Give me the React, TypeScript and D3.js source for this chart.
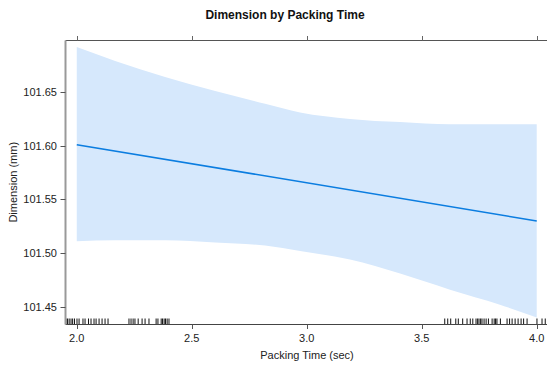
import React, { useEffect, useRef } from "react";
import * as d3 from "d3";

const title = "Dimension by Packing Time";
const xLabel = "Packing Time (sec)";
const yLabel = "Dimension (mm)";

const xTicks = [2.0, 2.5, 3.0, 3.5, 4.0];
const yTicks = [101.45, 101.5, 101.55, 101.6, 101.65];

// fitted line
const fitX = [2.0, 4.0];
const fitY = [101.601, 101.53];

// confidence band
const bandX = [2.0, 2.167, 2.384, 2.602, 2.819, 2.971, 3.188, 3.406, 3.623, 3.84, 4.0];
const bandUpper = [101.692, 101.679, 101.664, 101.651, 101.639, 101.631, 101.625, 101.622, 101.62, 101.62, 101.62];
const bandLower = [101.511, 101.512, 101.512, 101.51, 101.507, 101.502, 101.494, 101.481, 101.466, 101.452, 101.44];

// rug (jittered packing times)
const rugX = [
  1.953, 1.96, 1.967, 1.975, 1.982, 1.99, 2.001, 2.01, 2.027, 2.036, 2.051, 2.062, 2.075, 2.084,
  2.097, 2.11, 2.123, 2.136, 2.227, 2.236, 2.245, 2.253, 2.267, 2.284, 2.297, 2.314, 2.345,
  2.353, 2.367, 2.373, 2.38, 2.386, 2.393, 2.401,
  3.6, 3.613, 3.626, 3.648, 3.659, 3.678, 3.697, 3.711, 3.722, 3.736, 3.743, 3.749, 3.756,
  3.762, 3.771, 3.78, 3.79, 3.806, 3.815, 3.821, 3.827, 3.842, 3.871, 3.882, 3.893, 3.906,
  3.919, 3.932, 3.943, 3.958, 4.001, 4.023, 4.037,
];

const W = 547;
const H = 367;
const FONT = "'Liberation Sans', Arial, sans-serif";

export default function App() {
  const ref = useRef<SVGSVGElement>(null);

  useEffect(() => {
    document.body.style.margin = "0";
    const svg = d3.select(ref.current);
    svg.selectAll("*").remove();

    const left = 65.5, right = 548, top = 40.5, bottom = 324;
    const x = d3.scaleLinear().domain([1.951, 4.049]).range([left, right]);
    const y = d3.scaleLinear().domain([101.434, 101.698]).range([bottom, top]);

    // band
    const band = bandX.map((v, i) => ({ x: v, lo: bandLower[i], hi: bandUpper[i] }));
    const area = d3
      .area<{ x: number; lo: number; hi: number }>()
      .x((d) => x(d.x))
      .y0((d) => y(d.lo))
      .y1((d) => y(d.hi))
      .curve(d3.curveMonotoneX);
    svg.append("path").attr("d", area(band)).attr("fill", "#d6e8fc");

    // line
    const line = d3
      .line<number>()
      .x((d) => x(d))
      .y((_, i) => y(fitY[i]));
    svg
      .append("path")
      .attr("d", line(fitX))
      .attr("fill", "none")
      .attr("stroke", "#0b7de0")
      .attr("stroke-width", 1.5);

    // rug
    svg
      .append("g")
      .selectAll("line")
      .data(rugX)
      .join("line")
      .attr("x1", (d) => x(d))
      .attr("x2", (d) => x(d))
      .attr("y1", bottom - 5.5)
      .attr("y2", bottom)
      .attr("stroke", "#111")
      .attr("stroke-width", 1);

    // frame
    svg.append("line").attr("x1", left).attr("x2", right).attr("y1", top).attr("y2", top).attr("stroke", "#555");
    svg.append("line").attr("x1", left).attr("x2", right).attr("y1", bottom + 0.5).attr("y2", bottom + 0.5).attr("stroke", "#444");
    svg.append("line").attr("x1", left).attr("x2", left).attr("y1", top).attr("y2", bottom + 0.5).attr("stroke", "#999").attr("stroke-width", 2);

    // x ticks bottom and top
    xTicks.forEach((t) => {
      const px = Math.round(x(t)) + 0.5;
      svg.append("line").attr("x1", px).attr("x2", px).attr("y1", bottom + 0.5).attr("y2", bottom + 5).attr("stroke", "#555");
      svg.append("line").attr("x1", px).attr("x2", px).attr("y1", top).attr("y2", top - 4.5).attr("stroke", "#666");
      svg
        .append("text")
        .attr("x", x(t))
        .attr("y", 342)
        .attr("text-anchor", "middle")
        .attr("font-family", FONT)
        .attr("font-size", 11)
        .attr("fill", "#222")
        .text(d3.format(".1f")(t));
    });

    // y ticks
    yTicks.forEach((t) => {
      const py = Math.round(y(t)) + 0.5;
      svg.append("line").attr("x1", left - 5).attr("x2", left).attr("y1", py).attr("y2", py).attr("stroke", "#555");
      svg
        .append("text")
        .attr("x", 57)
        .attr("y", y(t) + 4)
        .attr("text-anchor", "end")
        .attr("font-family", FONT)
        .attr("font-size", 11)
        .attr("fill", "#222")
        .text(d3.format(".2f")(t));
    });

    // labels
    svg
      .append("text")
      .attr("x", 285)
      .attr("y", 19)
      .attr("text-anchor", "middle")
      .attr("font-family", FONT)
      .attr("font-size", 12)
      .attr("font-weight", "bold")
      .attr("fill", "#111")
      .text(title);
    svg
      .append("text")
      .attr("x", 307)
      .attr("y", 359)
      .attr("text-anchor", "middle")
      .attr("font-family", FONT)
      .attr("font-size", 11)
      .attr("fill", "#222")
      .text(xLabel);
    svg
      .append("text")
      .attr("transform", `translate(17,${(top + bottom) / 2}) rotate(-90)`)
      .attr("text-anchor", "middle")
      .attr("font-family", FONT)
      .attr("font-size", 11)
      .attr("fill", "#222")
      .text(yLabel);
  }, []);

  return (
    <svg
      ref={ref}
      width={W}
      height={H}
      style={{ display: "block", position: "absolute", left: 0, top: 0, background: "#fff" }}
    />
  );
}
